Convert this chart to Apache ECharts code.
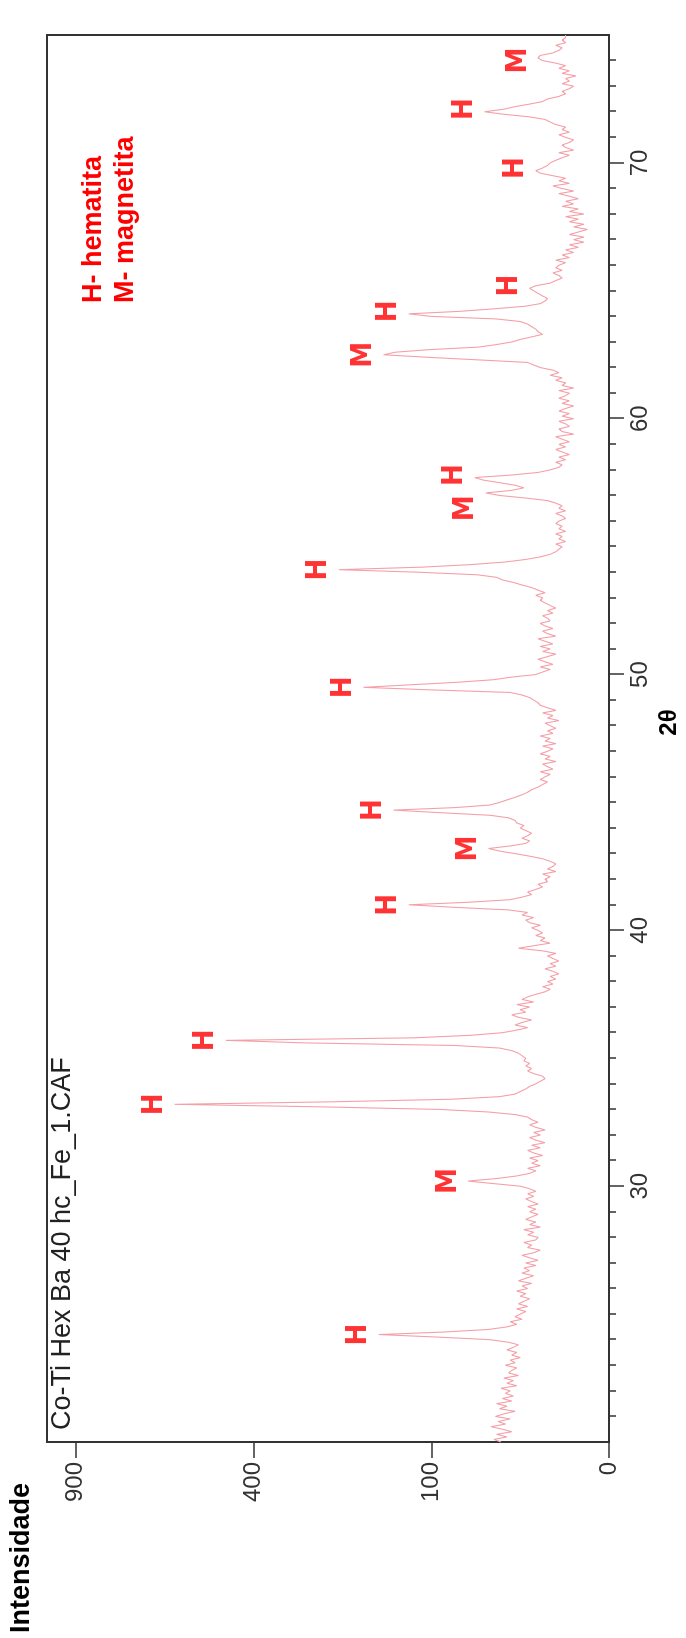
<!DOCTYPE html>
<html lang="pt">

<head>
    <meta charset="UTF-8">
    <title>DRX Co-Ti Hex Ba</title>
    <style>
        html, body { margin: 0; padding: 0; width: 686px; height: 1638px; overflow: hidden; background: #fff; }
        /* chart is drawn landscape, then turned a quarter to the left like the scanned figure */
        #main {
            position: absolute; left: 0; top: 0;
            width: 1638px; height: 686px;
            transform-origin: 0 0;
            transform: translate(0, 1638px) rotate(-90deg);
        }
    </style>
</head>

<body>
    <div id="main"></div>
    <script src="https://cdn.jsdelivr.net/npm/echarts@6/dist/echarts.min.js"></script>
    <script type="text/javascript">

        // 2θ grid of the scan (degrees)
        var thetaStart = 20;
        var thetaStep = 0.1;

        // intensity, one row per degree (x.0 ... x.9)
        var counts20to30 = [
            37, 42, 33, 40, 30, 36, 44, 34, 39, 31,
            41, 35, 28, 38, 33, 40, 30, 36, 29, 34,
            31, 37, 27, 33, 29, 35, 26, 32, 30, 27,
            34, 28, 31, 25, 30, 27, 33, 29, 26, 32,
            45, 92, 168, 86, 46, 33, 27, 31, 24, 28,
            25, 22, 27, 21, 26, 23, 20, 25, 22, 27,
            21, 24, 19, 26, 22, 18, 24, 20, 23, 17,
            22, 16, 20, 24, 18, 15, 21, 19, 23, 17,
            16, 21, 18, 23, 15, 20, 17, 22, 19, 16,
            20, 17, 21, 16, 19, 22, 18, 21, 17, 20
        ];
        var counts30to40 = [
            25, 42, 63, 40, 27, 20, 17, 21, 15, 19,
            16, 20, 14, 18, 21, 15, 19, 13, 17, 20,
            15, 18, 13, 17, 20, 16, 19, 21, 28, 46,
            90, 260, 598, 240, 78, 38, 28, 25, 22, 20,
            17, 15, 13, 14, 18, 21, 19, 22, 20, 23,
            22, 24, 26, 30, 38, 75, 290, 465, 120, 60,
            36, 27, 21, 28, 24, 19, 26, 30, 22, 25,
            20, 27, 18, 24, 21, 17, 13, 11, 14, 10,
            12, 9, 11, 8, 10, 13, 9, 11, 8, 10,
            12, 9, 14, 26, 18, 11, 15, 13, 17, 14
        ];
        var counts40to50 = [
            16, 19, 15, 20, 22, 18, 24, 21, 32, 75,
            127, 62, 31, 24, 19, 21, 17, 14, 16, 12,
            13, 11, 14, 9, 12, 10, 9, 11, 14, 20,
            28, 38, 46, 31, 22, 20, 24, 21, 19, 22,
            25, 23, 27, 28, 32, 45, 90, 147, 75, 45,
            38, 33, 28, 24, 21, 19, 16, 14, 12, 15,
            13, 11, 15, 10, 12, 14, 9, 13, 11, 15,
            12, 10, 14, 9, 13, 11, 15, 10, 12, 9,
            11, 13, 8, 12, 10, 14, 9, 12, 15, 16,
            18, 20, 24, 31, 100, 191, 125, 72, 42, 30
        ];
        var counts50to60 = [
            17, 14, 11, 15, 10, 13, 16, 12, 9, 14,
            11, 15, 10, 13, 16, 9, 12, 14, 10, 13,
            15, 11, 12, 14, 10, 12, 9, 11, 13, 15,
            14, 17, 13, 16, 19, 24, 29, 36, 40, 55,
            115, 231, 110, 60, 34, 22, 15, 11, 9, 8,
            7, 9, 6, 8, 7, 9, 6, 8, 7, 9,
            8, 6, 7, 9, 6, 8, 7, 9, 12, 22,
            38, 48, 30, 23, 28, 38, 50, 57, 30, 16,
            11, 8, 7, 9, 6, 8, 5, 7, 9, 6,
            8, 5, 7, 9, 4, 7, 8, 5, 6, 8
        ];
        var counts60to70 = [
            4, 7, 5, 8, 6, 4, 7, 5, 8, 6,
            5, 8, 4, 7, 6, 9, 7, 11, 8, 10,
            15, 18, 21, 54, 103, 161, 145, 103, 54, 40,
            30, 25, 19, 14, 16, 17, 19, 21, 25, 40,
            100, 127, 70, 41, 22, 15, 13, 12, 14, 16,
            18, 20, 17, 11, 9, 7, 8, 10, 7, 9,
            8, 6, 9, 5, 7, 4, 6, 3, 5, 2,
            4, 2, 5, 3, 1.5, 4, 2, 5, 3, 6,
            2, 5, 3, 7, 4, 6, 3, 5, 8, 4,
            7, 10, 5, 8, 6, 10, 15, 17, 14, 12
        ];
        var counts70to75 = [
            11, 9, 7, 5, 8, 4, 6, 7, 5, 4,
            6, 8, 5, 7, 6, 9, 11, 13, 20, 35,
            49, 35, 28, 20, 14, 12, 8, 6, 7, 5,
            4, 7, 5, 6, 3.5, 7, 5, 8, 6, 9,
            14, 16, 15, 10, 8, 7, 9, 6, 7, 6,
            6
        ];

        // phase marks over the peaks
        var peakPhase = ['H', 'M', 'H', 'H', 'H', 'M', 'H', 'H', 'H', 'M', 'H', 'M', 'H', 'H', 'H', 'H', 'M'];
        var peakTheta = [24.2, 30.2, 33.2, 35.7, 41.0, 43.2, 44.7, 49.5, 54.1, 56.5, 57.8, 62.5, 64.2, 65.2, 69.8, 72.1, 74.0];
        var peakCounts = [168, 63, 598, 465, 127, 46, 147, 191, 231, 48, 57, 161, 127, 20, 17, 49, 16];

        // axes
        var intensityTicks = [0, 100, 400, 900];
        var intensityMax = 1000;
        var thetaLabels = [30, 40, 50, 60, 70];
        var thetaMin = 20, thetaMax = 75;

        var counts = [].concat(counts20to30, counts30to40, counts40to50, counts50to60, counts60to70, counts70to75);
        // square-root intensity axis
        var scan = counts.map(function (c, i) {
            return [+(thetaStart + i * thetaStep).toFixed(1), Math.sqrt(c)];
        });
        var marks = peakTheta.map(function (t, i) {
            return [t, Math.sqrt(peakCounts[i]), peakPhase[i]];
        });
        var minorTicks = [];
        for (var d = thetaMin + 1; d < thetaMax; d++) {
            if (d % 10 !== 0) minorTicks.push(d);
        }

        var FONT = 'Liberation Sans, Arial, Helvetica, sans-serif';
        var INK = '#333';

        var chartDom = document.getElementById('main');
        var myChart = echarts.init(chartDom);
        var option = {
            animation: false,
            backgroundColor: '#fff',
            grid: {
                left: 196, right: 35, top: 47, bottom: 75,
                show: true, borderColor: INK, borderWidth: 2
            },
            xAxis: [
                {
                    type: 'value', min: thetaMin, max: thetaMax, position: 'bottom',
                    name: '2θ', nameLocation: 'middle', nameGap: 42,
                    nameTextStyle: { fontFamily: FONT, fontWeight: 'bold', fontSize: 24, color: '#000', padding: [0, 0, 0, 32] },
                    axisLine: { show: true, lineStyle: { color: INK, width: 2 } },
                    axisTick: { show: true, length: 15, customValues: thetaLabels, lineStyle: { color: INK, width: 1.5 } },
                    axisLabel: { customValues: thetaLabels, margin: 19, fontFamily: FONT, fontSize: 24, color: INK },
                    splitLine: { show: false }
                },
                {
                    // 1° minor ticks
                    type: 'value', min: thetaMin, max: thetaMax, position: 'bottom',
                    axisLine: { show: false },
                    axisTick: { show: true, length: 7, customValues: minorTicks, lineStyle: { color: INK, width: 1.5 } },
                    axisLabel: { show: false },
                    splitLine: { show: false }
                }
            ],
            yAxis: {
                type: 'value', min: 0, max: Math.sqrt(intensityMax),
                axisLine: { show: true, lineStyle: { color: INK, width: 2 } },
                axisTick: { show: true, length: 16, customValues: intensityTicks.map(Math.sqrt), lineStyle: { color: INK, width: 1.5 } },
                axisLabel: {
                    customValues: intensityTicks.map(Math.sqrt), margin: 20,
                    fontFamily: FONT, fontSize: 24, color: INK,
                    formatter: function (v) { return Math.round(v * v); }
                },
                splitLine: { show: false }
            },
            graphic: [
                { type: 'text', left: 5, top: 8, style: { text: 'Intensidade', font: 'bold 27px ' + FONT, fill: '#000' } },
                { type: 'text', left: 208, top: 49, style: { text: 'Co-Ti Hex Ba 40 hc_Fe_1.CAF', font: '27px ' + FONT, fill: '#222' } },
                { type: 'text', left: 1335, top: 80, style: { text: 'H- hematita', font: 'bold 27px ' + FONT, fill: '#ff0000' } },
                { type: 'text', left: 1335, top: 112, style: { text: 'M- magnetita', font: 'bold 27px ' + FONT, fill: '#ff0000' } }
            ],
            series: [
                {
                    name: 'Co-Ti Hex Ba 40 hc_Fe_1',
                    type: 'line',
                    data: scan,
                    showSymbol: false,
                    lineStyle: { color: '#f4a0a8', width: 1.1 },
                    silent: true
                },
                {
                    name: 'fases',
                    type: 'scatter',
                    data: marks,
                    symbolSize: 1,
                    itemStyle: { color: 'rgba(0,0,0,0)' },
                    silent: true,
                    label: {
                        show: true, position: 'top', distance: 5,
                        formatter: function (p) { return p.data[2]; },
                        fontFamily: 'Liberation Sans Narrow, Arial Narrow, DejaVu Sans Condensed, sans-serif',
                        fontWeight: 'bold', fontSize: 29, color: '#ff0000'
                    }
                }
            ]
        };

        option && myChart.setOption(option);

    </script>
</body>

</html>
